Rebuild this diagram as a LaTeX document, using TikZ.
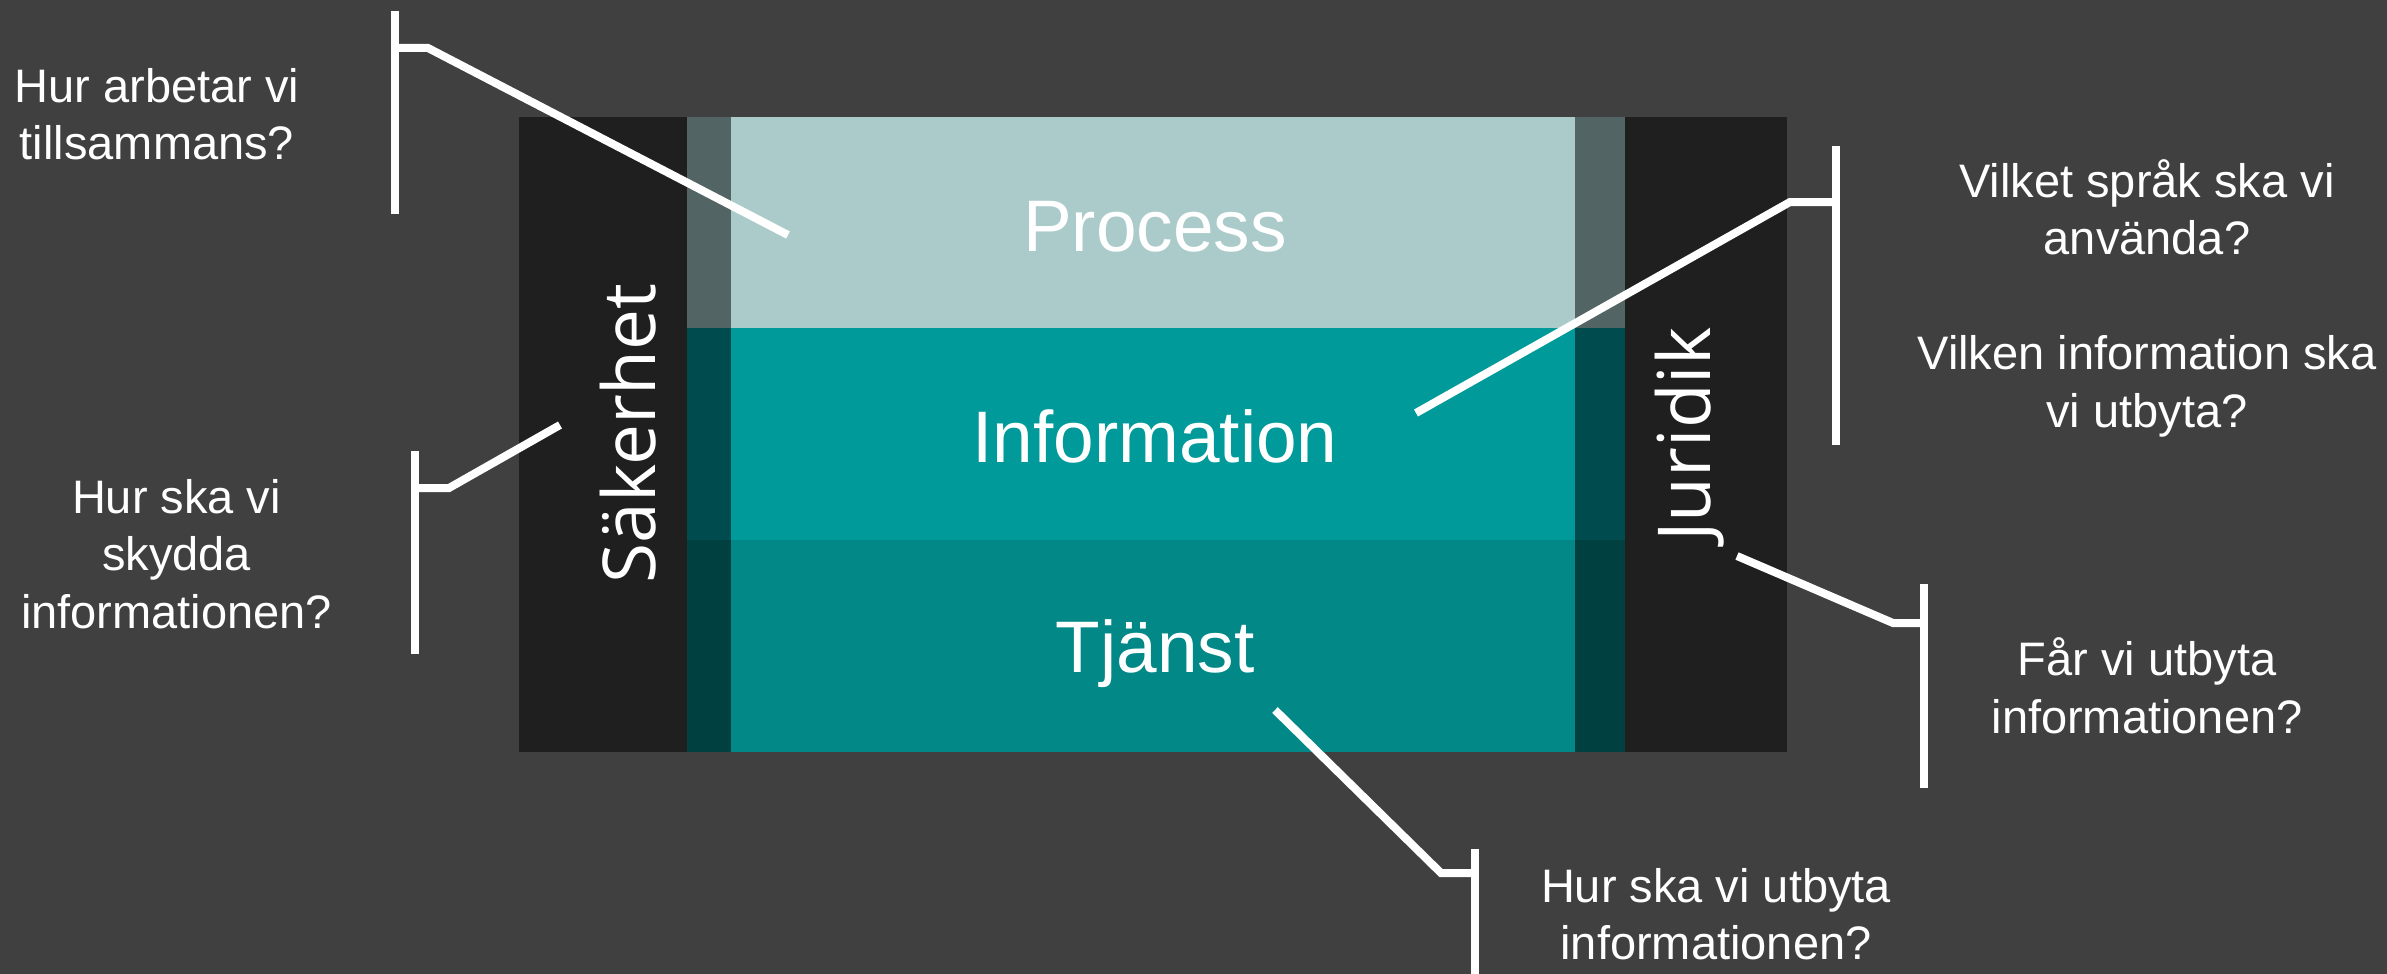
\documentclass[tikz,border=0pt]{standalone}
\usepackage{fontspec}
\setmainfont{Liberation Sans}
\newfontfamily\sidefont{Open Sans}
\definecolor{bgC}{HTML}{404040}
\definecolor{blackC}{HTML}{1F1F1F}
\definecolor{procC}{HTML}{ABCBCB}
\definecolor{procS}{HTML}{536464}
\definecolor{infoC}{HTML}{009A9A}
\definecolor{infoS}{HTML}{004B4D}
\definecolor{tjC}{HTML}{038888}
\definecolor{tjS}{HTML}{004040}
\begin{document}
\begin{tikzpicture}[x=1pt,y=-1pt,
  blk/.style={inner sep=0pt, outer sep=0pt, draw=none, anchor=north west},
  quest/.style={text=white, align=center, font=\fontsize{47}{57.5}\selectfont, anchor=base, inner sep=0pt},
  layer/.style={text=white, font=\fontsize{73}{80}\selectfont, anchor=base, inner sep=0pt},
  side/.style={text=white, font=\sidefont\fontsize{73}{80}\selectfont, anchor=base, rotate=90, inner sep=0pt},
  cl/.style={draw=white, line width=8pt}]
\fill[bgC] (0,0) rectangle (2387,974);
\useasboundingbox (0,0) rectangle (2387,974);
% columns
\node[blk, fill=blackC, minimum width=168pt, minimum height=635pt] (secbox) at (519,117) {};
\node[blk, fill=blackC, minimum width=162pt, minimum height=635pt] (jurbox) at (1625,117) {};
% left strips
\node[blk, fill=procS, minimum width=44pt, minimum height=211pt] (pls) at (687,117) {};
\node[blk, fill=infoS, minimum width=44pt, minimum height=212pt] (ils) at (687,328) {};
\node[blk, fill=tjS, minimum width=44pt, minimum height=212pt] (tls) at (687,540) {};
% right strips
\node[blk, fill=procS, minimum width=50pt, minimum height=211pt] (prs) at (1575,117) {};
\node[blk, fill=infoS, minimum width=50pt, minimum height=212pt] (irs) at (1575,328) {};
\node[blk, fill=tjS, minimum width=50pt, minimum height=212pt] (trs) at (1575,540) {};
% layers
\node[blk, fill=procC, minimum width=844pt, minimum height=211pt] (proc) at (731,117) {};
\node[blk, fill=infoC, minimum width=844pt, minimum height=212pt] (info) at (731,328) {};
\node[blk, fill=tjC, minimum width=844pt, minimum height=212pt] (tj) at (731,540) {};
% layer labels
\node[layer] (proclbl) at (1155,251) {Process};
\node[layer] (infolbl) at (1155,462) {Information};
\node[layer] (tjlbl) at (1155,672) {Tjänst};
\node[side] (seclbl) at (655,433.5) {Säkerhet};
\node[side] (jurlbl) at (1710,434.5) {Juridik};
% questions (anchor = baseline of last line)
\node[quest] (q1) at (157,159.5) {Hur arbetar vi\\tillsammans?};
\node[quest] (q2) at (176.5,628) {Hur ska vi\\skydda\\informationen?};
\node[quest] (q3) at (2147,427) {Vilket språk ska vi\\använda?\\[57.5pt]Vilken information ska\\vi utbyta?};
\node[quest] (q4) at (2147,733) {Får vi utbyta\\informationen?};
\node[quest] (q5) at (1716,959.5) {Hur ska vi utbyta\\informationen?};
% connector coordinates
\coordinate (b1t) at (395,11);   \coordinate (b1b) at (395,214);
\coordinate (b1s) at (395,48);   \coordinate (b1k) at (428,48);   \coordinate (b1e) at (788,235);
\coordinate (b2t) at (415,451);  \coordinate (b2b) at (415,654);
\coordinate (b2s) at (415,488);  \coordinate (b2k) at (449,488);  \coordinate (b2e) at (560,425);
\coordinate (b3t) at (1836,146); \coordinate (b3b) at (1836,445);
\coordinate (b3s) at (1836,202); \coordinate (b3k) at (1790,202); \coordinate (b3e) at (1416,413);
\coordinate (b4t) at (1924,584); \coordinate (b4b) at (1924,788);
\coordinate (b4s) at (1924,623); \coordinate (b4k) at (1893,623); \coordinate (b4e) at (1737,556);
\coordinate (b5t) at (1475,849); \coordinate (b5b) at (1475,974);
\coordinate (b5s) at (1475,873); \coordinate (b5k) at (1441,873); \coordinate (b5e) at (1275,710);
% connectors
\foreach \i in {1,...,5}{
  \draw[cl] (b\i t) -- (b\i b);
  \draw[cl] (b\i s) -- (b\i k) -- (b\i e);
}
\end{tikzpicture}
\end{document}
